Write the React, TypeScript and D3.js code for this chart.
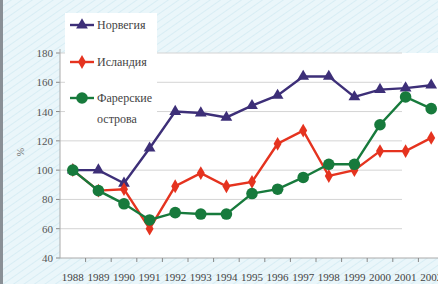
import { useMemo } from "react";
import { scaleBand, scaleLinear, line, symbol, symbolTriangle, symbolDiamond } from "d3";

const years = ["1988", "1989", "1990", "1991", "1992", "1993", "1994", "1995", "1996", "1997", "1998", "1999", "2000", "2001", "2002"];
const norway = [100, 100, 91, 115, 140, 139, 136, 144, 151, 164, 164, 150, 155, 156, 158];
const iceland = [100, 86, 87, 60, 89, 98, 89, 92, 118, 127, 96, 100, 113, 113, 122];
const faroe = [100, 86, 77, 66, 71, 70, 70, 84, 87, 95, 104, 104, 131, 150, 142];
const yTicks = [40, 60, 80, 100, 120, 140, 160, 180];

const W = 438;
const H = 284;

const series = [
  { name: "Норвегия", values: norway, color: "#3d2f78", shape: "triangle" },
  { name: "Исландия", values: iceland, color: "#e5331f", shape: "diamond" },
  { name: "Фарерские острова", values: faroe, color: "#177a3c", shape: "circle" },
];

function Marker({ shape, color, x, y }: { shape: string; color: string; x: number; y: number }) {
  if (shape === "circle") return <circle cx={x} cy={y} r={5.8} fill={color} />;
  const d = symbol(shape === "triangle" ? symbolTriangle : symbolDiamond, shape === "triangle" ? 60 : 55)();
  return <path d={d || ""} transform={`translate(${x},${y})`} fill={color} />;
}

export default function App() {
  const x = useMemo(() => scaleBand<string>().domain(years).range([60, 60 + 15 * 25.6]), []);
  const y = useMemo(() => scaleLinear().domain([40, 180]).range([258, 53]), []);
  const cx = (yr: string) => (x(yr) ?? 0) + x.bandwidth() / 2;
  const gen = line<number>()
    .x((_, i) => cx(years[i]))
    .y((d) => y(d));

  const legendY = [25, 62, 98];

  return (
    <svg width={W} height={H} style={{ position: "absolute", left: 0, top: 0 }}>
      <defs>
        <pattern id="hatch" width="6" height="6" patternUnits="userSpaceOnUse" patternTransform="rotate(-35)">
          <rect width="6" height="6" fill="#eaf6fa" />
          <line x1="0" y1="0" x2="6" y2="0" stroke="#d3ebf3" strokeWidth="1.5" />
        </pattern>
      </defs>
      <rect width={W} height={H} fill="url(#hatch)" />
      <rect x={0} y={0} width={3} height={H} fill="#8a9096" />
      {/* plot area */}
      <rect x={60} y={y(180)} width={W - 60} height={y(40) - y(180)} fill="#ffffff" />
      {yTicks.map((t) => (
        <g key={t}>
          {t > 40 && <line x1={60} x2={402} y1={y(t)} y2={y(t)} stroke="#d4d4d4" strokeWidth={1} />}
          <line x1={56} x2={60} y1={y(t)} y2={y(t)} stroke="#888" />
          <text x={53} y={y(t) + 4} textAnchor="end" fontSize={11} fill="#555" fontFamily="Liberation Serif">
            {t}
          </text>
        </g>
      ))}
      <line x1={60} x2={60} y1={y(180) - 4} y2={y(40)} stroke="#aaa" />
      <line x1={60} x2={W} y1={y(40)} y2={y(40)} stroke="#aaa" />
      {years.map((yr) => (
        <g key={yr}>
          <line x1={(x(yr) ?? 0) + x.bandwidth()} x2={(x(yr) ?? 0) + x.bandwidth()} y1={y(40)} y2={y(40) + 4} stroke="#888" />
          <text x={cx(yr)} y={281} textAnchor="middle" fontSize={11} fill="#444" fontFamily="Liberation Serif">
            {yr}
          </text>
        </g>
      ))}
      <text transform={`translate(24,152) rotate(-90)`} textAnchor="middle" fontSize={10} fill="#666" fontFamily="Liberation Serif">
        %
      </text>
      {series.map((s) => (
        <g key={s.name}>
          <path d={gen(s.values) || ""} fill="none" stroke={s.color} strokeWidth={2.4} />
          {s.values.map((v, i) => (
            <Marker key={i} shape={s.shape} color={s.color} x={cx(years[i])} y={y(v)} />
          ))}
        </g>
      ))}
      {/* legend */}
      <rect x={65} y={13} width={92} height={112} fill="#ffffff" />
      {series.map((s, i) => (
        <g key={s.name}>
          <line x1={70} x2={94} y1={legendY[i]} y2={legendY[i]} stroke={s.color} strokeWidth={2.4} />
          <Marker shape={s.shape} color={s.color} x={82} y={legendY[i]} />
          {i < 2 ? (
            <text x={97} y={legendY[i] + 4} fontSize={12} fill="#444" fontFamily="Liberation Serif">
              {s.name}
            </text>
          ) : (
            <text x={97} y={legendY[i] + 4} fontSize={12} fill="#444" fontFamily="Liberation Serif">
              <tspan>Фарерские</tspan>
              <tspan x={97} dy={21}>острова</tspan>
            </text>
          )}
        </g>
      ))}
    </svg>
  );
}
